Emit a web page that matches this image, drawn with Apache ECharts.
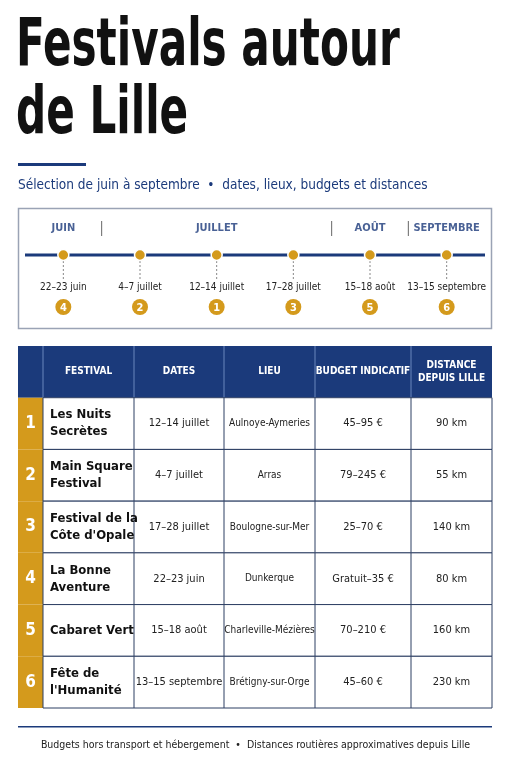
<!DOCTYPE html>
<html><head><meta charset="utf-8">
<script src="https://cdn.jsdelivr.net/npm/echarts@6/dist/echarts.min.js"></script>
<style>html,body{margin:0;background:#fff}#c{width:511px;height:768px}</style>
</head><body><div id="c"></div>
<script>
const NAVY = "#1b3a7b", GOLD = "#d49a1c", LINE = "#9aa3b5";
const FONT = "'Liberation Sans Narrow','DejaVu Sans Condensed','Roboto',sans-serif";

// timeline (events in chronological order)
const months = ["JUIN", "JUILLET", "AOÛT", "SEPTEMBRE"];
const eventMonth = [0, 1, 1, 1, 2, 3];
const eventLabels = ["22–23 juin", "4–7 juillet", "12–14 juillet", "17–28 juillet", "15–18 août", "13–15 septembre"];
const eventNums = [4, 2, 1, 3, 5, 6];

// table
const headers = ["", "FESTIVAL", "DATES", "LIEU", "BUDGET INDICATIF", "DISTANCE\nDEPUIS LILLE"];
const festivals = ["Les Nuits\nSecrètes", "Main Square\nFestival", "Festival de la\nCôte d'Opale", "La Bonne\nAventure", "Cabaret Vert", "Fête de\nl'Humanité"];
const dates = ["12–14 juillet", "4–7 juillet", "17–28 juillet", "22–23 juin", "15–18 août", "13–15 septembre"];
const lieux = ["Aulnoye-Aymeries", "Arras", "Boulogne-sur-Mer", "Dunkerque", "Charleville-Mézières", "Brétigny-sur-Orge"];
const budgets = ["45–95 €", "79–245 €", "25–70 €", "Gratuit–35 €", "70–210 €", "45–60 €"];
const distances = [90, 55, 140, 80, 160, 230];

const colEdges = [0, 25, 116, 206, 297, 393, 474];

const monthCenters = months.map((m, k) => {
  const idx = eventMonth.map((v, i) => v === k ? i : -1).filter(i => i >= 0);
  return idx.reduce((a, b) => a + b, 0) / idx.length;
});
const separators = [];
for (let i = 1; i < eventMonth.length; i++) if (eventMonth[i] !== eventMonth[i - 1]) separators.push(i - 0.5);

const chart = echarts.init(document.getElementById("c"));
chart.setOption({
  animation: false,
  textStyle: { fontFamily: FONT },
  graphic: [
    { type: "text", left: 16, top: 14, scaleX: 0.71, style: { text: "Festivals autour\nde Lille", font: "bold 66px " + FONT, fill: "#111", lineHeight: 68 } },
    { type: "rect", shape: { x: 18, y: 163, width: 68, height: 3 }, style: { fill: NAVY } },
    { type: "text", left: 18, top: 178, style: { text: "Sélection de juin à septembre  •  dates, lieux, budgets et distances", font: "13.5px " + FONT, fill: NAVY } },
    { type: "rect", shape: { x: 18.5, y: 208.5, width: 473, height: 120 }, style: { fill: "none", stroke: LINE, lineWidth: 1.5 } },
    { type: "rect", shape: { x: 18, y: 726, width: 474, height: 1.5 }, style: { fill: NAVY } },
    { type: "text", left: "center", top: 740, style: { text: "Budgets hors transport et hébergement  •  Distances routières approximatives depuis Lille", font: "10.5px " + FONT, fill: "#222" } }
  ],
  grid: [
    { left: 25, right: 26, top: 215, height: 110 },
    { left: 18, right: 19, top: 346, height: 362 }
  ],
  xAxis: [
    { type: "value", gridIndex: 0, min: -0.5, max: 5.5, show: false },
    { type: "value", gridIndex: 1, min: 0, max: 474, show: false }
  ],
  yAxis: [
    { type: "value", gridIndex: 0, min: 0, max: 110, inverse: true, show: false },
    { type: "category", gridIndex: 1, data: ["head"].concat(festivals), inverse: true, show: false }
  ],
  series: [
    { type: "line", xAxisIndex: 0, yAxisIndex: 0, symbol: "none",
      data: [[-0.5, 40], [5.5, 40]], lineStyle: { color: NAVY, width: 3 }, z: 1 },
    { type: "scatter", xAxisIndex: 0, yAxisIndex: 0, symbolSize: 0,
      data: monthCenters.map((x, i) => ({ value: [x, 13], name: months[i] })),
      label: { show: true, formatter: p => p.name, color: NAVY, fontWeight: "bold", fontSize: 11 } },
    { type: "custom", xAxisIndex: 0, yAxisIndex: 0,
      data: separators.map(x => [x]),
      renderItem: (params, api) => {
        const a = api.coord([api.value(0), 6]), b = api.coord([api.value(0), 21]);
        return { type: "line", shape: { x1: a[0], y1: a[1], x2: b[0], y2: b[1] }, style: { stroke: "#666", lineWidth: 1 } };
      } },
    { type: "custom", xAxisIndex: 0, yAxisIndex: 0, z: 3,
      data: eventLabels.map((l, i) => [i]),
      renderItem: (params, api) => {
        const i = api.value(0);
        const p = api.coord([i, 40]), lab = api.coord([i, 72]), num = api.coord([i, 92]);
        return { type: "group", children: [
          { type: "line", shape: { x1: p[0], y1: p[1] + 6, x2: p[0], y2: p[1] + 24 }, style: { stroke: "#888", lineWidth: 1, lineDash: [2, 2] } },
          { type: "circle", shape: { cx: p[0], cy: p[1], r: 5.5 }, style: { fill: GOLD, stroke: "#fff", lineWidth: 1.5 } },
          { type: "text", style: { x: p[0], y: lab[1], text: eventLabels[i], align: "center", verticalAlign: "middle", font: "10px " + FONT, fill: "#222" } },
          { type: "circle", shape: { cx: num[0], cy: num[1], r: 8 }, style: { fill: GOLD } },
          { type: "text", style: { x: num[0], y: num[1] + 1, text: String(eventNums[i]), align: "center", verticalAlign: "middle", font: "bold 11px " + FONT, fill: "#fff" } }
        ] };
      } },
    { type: "custom", xAxisIndex: 1, yAxisIndex: 1,
      data: ["head"].concat(festivals).map((f, i) => [i]),
      renderItem: (params, api) => {
        const r = api.value(0);
        const c = api.coord([0, r]);
        const h = api.size([0, 1])[1];
        const top = c[1] - h / 2;
        const x = k => api.coord([colEdges[k], r])[0];
        const kids = [];
        if (r === 0) {
          kids.push({ type: "rect", shape: { x: x(0), y: top, width: x(6) - x(0), height: h }, style: { fill: NAVY } });
          for (let k = 1; k < 6; k++) {
            kids.push({ type: "line", shape: { x1: x(k), y1: top, x2: x(k), y2: top + h }, style: { stroke: "#6a86bd", lineWidth: 1 } });
            kids.push({ type: "text", style: { x: (x(k) + x(k + 1)) / 2, y: c[1], text: headers[k], align: "center", verticalAlign: "middle", font: "bold 10px " + FONT, fill: "#fff", lineHeight: 13 } });
          }
        } else {
          const i = r - 1;
          const cells = [null, festivals[i], dates[i], lieux[i], budgets[i], distances[i] + " km"];
          kids.push({ type: "rect", shape: { x: x(0), y: top, width: x(1) - x(0), height: h }, style: { fill: GOLD } });
          kids.push({ type: "text", style: { x: (x(0) + x(1)) / 2, y: c[1], text: String(r), align: "center", verticalAlign: "middle", font: "bold 17px " + FONT, fill: "#fff" } });
          kids.push({ type: "rect", shape: { x: x(1), y: top, width: x(6) - x(1), height: h }, style: { fill: "#fff", stroke: "#2c3e63", lineWidth: 1 } });
          for (let k = 2; k < 6; k++)
            kids.push({ type: "line", shape: { x1: x(k), y1: top, x2: x(k), y2: top + h }, style: { stroke: "#2c3e63", lineWidth: 1 } });
          kids.push({ type: "text", style: { x: x(1) + 7, y: c[1], text: cells[1], align: "left", verticalAlign: "middle", font: "bold 13px " + FONT, fill: "#111", lineHeight: 17 } });
          for (let k = 2; k < 6; k++)
            kids.push({ type: "text", style: { x: (x(k) + x(k + 1)) / 2, y: c[1], text: cells[k], align: "center", verticalAlign: "middle", font: (k === 3 ? "10px " : "11px ") + FONT, fill: "#222" } });
        }
        return { type: "group", children: kids };
      } }
  ]
});
</script></body></html>
